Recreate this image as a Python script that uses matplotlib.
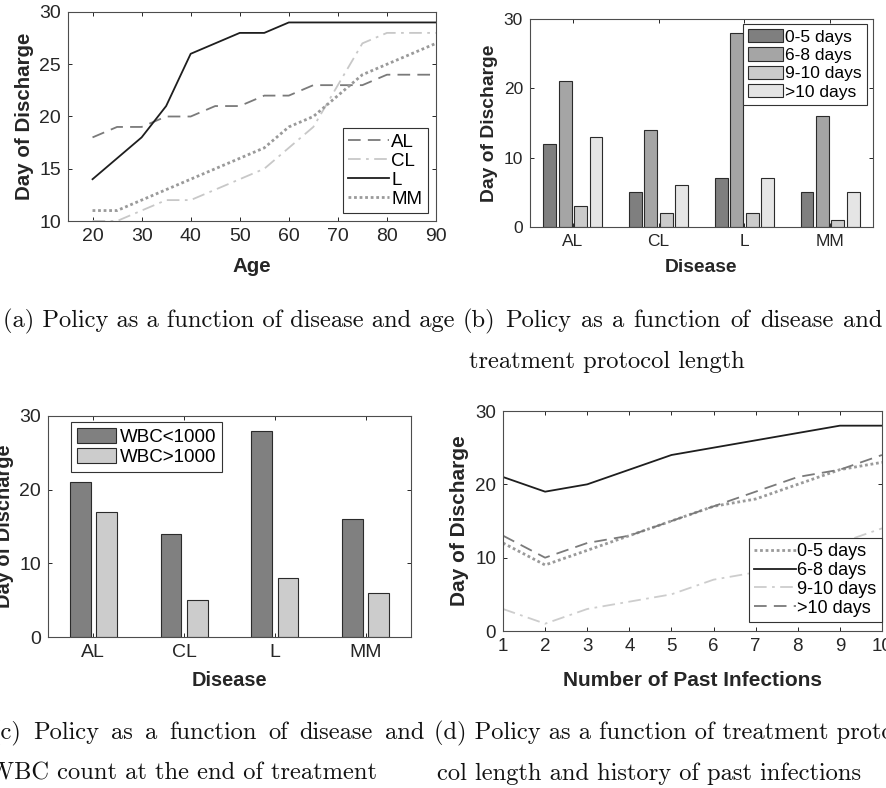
import matplotlib.pyplot as plt
import numpy as np

plt.rcParams['font.family'] = 'Liberation Sans'

W, H = 887, 788

# (a) discharge day vs age, per disease
ages = [20, 25, 30, 35, 40, 45, 50, 55, 60, 65, 70, 75, 80, 85, 90]
age_series = {
    "AL": [18, 19, 19, 20, 20, 21, 21, 22, 22, 23, 23, 23, 24, 24, 24],
    "CL": [10, 10, 11, 12, 12, 13, 14, 15, 17, 19, 23, 27, 28, 28, 28],
    "L":  [14, 16, 18, 21, 26, 27, 28, 28, 29, 29, 29, 29, 29, 29, 29],
    "MM": [11, 11, 12, 13, 14, 15, 16, 17, 19, 20, 22, 24, 25, 26, 27],
}

# (b) discharge day per disease and protocol length
diseases = ["AL", "CL", "L", "MM"]
protocol_labels = ["0-5 days", "6-8 days", "9-10 days", ">10 days"]
protocol_vals = [
    [12, 5, 7, 5],
    [21, 14, 28, 16],
    [3, 2, 2, 1],
    [13, 6, 7, 5],
]

# (c) discharge day per disease and WBC count
wbc_labels = ["WBC<1000", "WBC>1000"]
wbc_vals = [
    [21, 14, 28, 16],
    [17, 5, 8, 6],
]

# (d) discharge day vs number of past infections
infections = [1, 2, 3, 4, 5, 6, 7, 8, 9, 10]
inf_series = {
    "0-5 days":  [12, 9, 11, 13, 15, 17, 18, 20, 22, 23],
    "6-8 days":  [21, 19, 20, 22, 24, 25, 26, 27, 28, 28],
    "9-10 days": [3, 1, 3, 4, 5, 7, 8, 10, 12, 14],
    ">10 days":  [13, 10, 12, 13, 15, 17, 19, 21, 22, 24],
}

fig = plt.figure(figsize=(W / 100, H / 100), dpi=100)


def add_ax(l, t, r, b):
    return fig.add_axes([l / W, 1 - b / H, (r - l) / W, (b - t) / H])


def ftext(x, y, s, **kw):
    return fig.text(x / W, 1 - y / H, s, **kw)


def style(ax, fs):
    ax.tick_params(direction='in', top=True, right=True, length=3, width=0.7,
                   labelsize=fs, pad=5, colors='#262626')
    for s in ax.spines.values():
        s.set_color('#4d4d4d')
        s.set_linewidth(0.8)


def legend(ax, loc, x, y, fs, **kw):
    leg = ax.legend(loc=loc, bbox_to_anchor=(x / W, 1 - y / H),
                    bbox_transform=fig.transFigure, borderaxespad=0,
                    fancybox=False, edgecolor='#333333', framealpha=1,
                    fontsize=fs, **kw)
    leg.get_frame().set_linewidth(0.8)
    return leg


lab_kw = dict(fontweight='bold', color='#262626', ha='center', va='center')

# ---- (a)
ax = add_ax(68, 12, 436, 221)
line_styles_a = {
    "AL": dict(color='#7a7a7a', ls=(0, (7, 4)), lw=1.3),
    "CL": dict(color='#c8c8c8', ls=(0, (7, 3, 1.5, 3)), lw=1.3),
    "L":  dict(color='#1e1e1e', ls='-', lw=1.3),
    "MM": dict(color='#9a9a9a', ls=(0, (1, 1)), lw=2.0),
}
for name, vals in age_series.items():
    ax.plot(ages, vals, label=name, **line_styles_a[name])
ax.set_xlim(15, 90)
ax.set_ylim(10, 30)
ax.set_xticks(range(20, 91, 10))
ax.set_yticks(range(10, 31, 5))
style(ax, 14)
legend(ax, 'upper right', 428, 128, 13.5, handlelength=2.2, labelspacing=0.1,
       borderpad=0.3, handletextpad=0.1)
ftext(25, 116.5, "Day of Discharge", rotation=90, fontsize=14.8, **lab_kw)
ftext(252, 266, "Age", fontsize=14.8, **lab_kw)

# ---- (b)
ax = add_ax(530, 19, 873, 227)
x = np.arange(1, 5)
colors_b = ['#7f7f7f', '#a5a5a5', '#cbcbcb', '#e5e5e5']
offsets_b = [-0.27, -0.09, 0.09, 0.27]
for vals, lab, c, off in zip(protocol_vals, protocol_labels, colors_b, offsets_b):
    ax.bar(x + off, vals, width=0.15, color=c, edgecolor='#2b2b2b', linewidth=0.8, label=lab)
ax.set_xlim(0.5, 4.5)
ax.set_ylim(0, 30)
ax.set_xticks(x, diseases)
ax.set_yticks([0, 10, 20, 30])
style(ax, 12.5)
legend(ax, 'upper right', 867, 24, 12.5, handlelength=2.0, handleheight=0.8,
       labelspacing=0.15, borderpad=0.3, handletextpad=0.15)
ftext(490, 123, "Day of Discharge", rotation=90, fontsize=13.9, **lab_kw)
ftext(701, 268, "Disease", fontsize=13.9, **lab_kw)

# ---- (c)
ax = add_ax(48, 416, 411, 637)
colors_c = ['#808080', '#cccccc']
offsets_c = [-0.145, 0.145]
for vals, lab, c, off in zip(wbc_vals, wbc_labels, colors_c, offsets_c):
    ax.bar(x + off, vals, width=0.23, color=c, edgecolor='#2b2b2b', linewidth=0.8, label=lab)
ax.set_xlim(0.5, 4.5)
ax.set_ylim(0, 30)
ax.set_xticks(x, diseases)
ax.set_yticks([0, 10, 20, 30])
style(ax, 14)
legend(ax, 'upper left', 71, 422, 13.5, handlelength=2.1, handleheight=0.85,
       labelspacing=0.15, borderpad=0.3, handletextpad=0.2)
ftext(5, 526.5, "Day of Discharge", rotation=90, fontsize=14.4, **lab_kw)
ftext(229.5, 680, "Disease", fontsize=14.4, **lab_kw)

# ---- (d)
ax = add_ax(503, 411, 882, 631)
line_styles_d = {
    "0-5 days":  dict(color='#9a9a9a', ls=(0, (1, 1)), lw=2.0),
    "6-8 days":  dict(color='#1e1e1e', ls='-', lw=1.3),
    "9-10 days": dict(color='#cdcdcd', ls=(0, (7, 3, 1.5, 3)), lw=1.3),
    ">10 days":  dict(color='#7a7a7a', ls=(0, (7, 4)), lw=1.3),
}
for name, vals in inf_series.items():
    ax.plot(infections, vals, label=name, **line_styles_d[name])
ax.set_xlim(1, 10)
ax.set_ylim(0, 30)
ax.set_xticks(infections)
ax.set_yticks([0, 10, 20, 30])
style(ax, 13.5)
legend(ax, 'lower right', 882, 622, 13, handlelength=2.3, labelspacing=0.1,
       borderpad=0.3, handletextpad=0.1)
ftext(460, 521, "Day of Discharge", rotation=90, fontsize=15, **lab_kw)
ftext(692.5, 680, "Number of Past Infections", fontsize=15, **lab_kw)

# ---- captions
cap_kw = dict(family='cmr10', fontsize=17.6, color='#111111', va='baseline', ha='left')
renderer = fig.canvas.get_renderer()


def justified(text, x0, x1, y):
    words = text.split()
    arts = [ftext(0, y, w, **cap_kw) for w in words]
    widths = [a.get_window_extent(renderer).width for a in arts]
    gap = (x1 - x0 - sum(widths)) / (len(words) - 1)
    xx = x0
    for a, w in zip(arts, widths):
        a.set_x(xx / W)
        xx += w + gap


ftext(3, 327, "(a) Policy as a function of disease and age", **cap_kw)
justified("(b) Policy as a function of disease and", 463, 882, 327)
ftext(469, 368, "treatment protocol length", **cap_kw)
justified("(c) Policy as a function of disease and", -8, 424, 739)
ftext(-11, 780, "WBC count at the end of treatment", **cap_kw)
ftext(434, 739, "(d) Policy as a function of treatment proto-", **cap_kw)
ftext(437, 780, "col length and history of past infections", **cap_kw)

fig.savefig("out.png", dpi=100)
